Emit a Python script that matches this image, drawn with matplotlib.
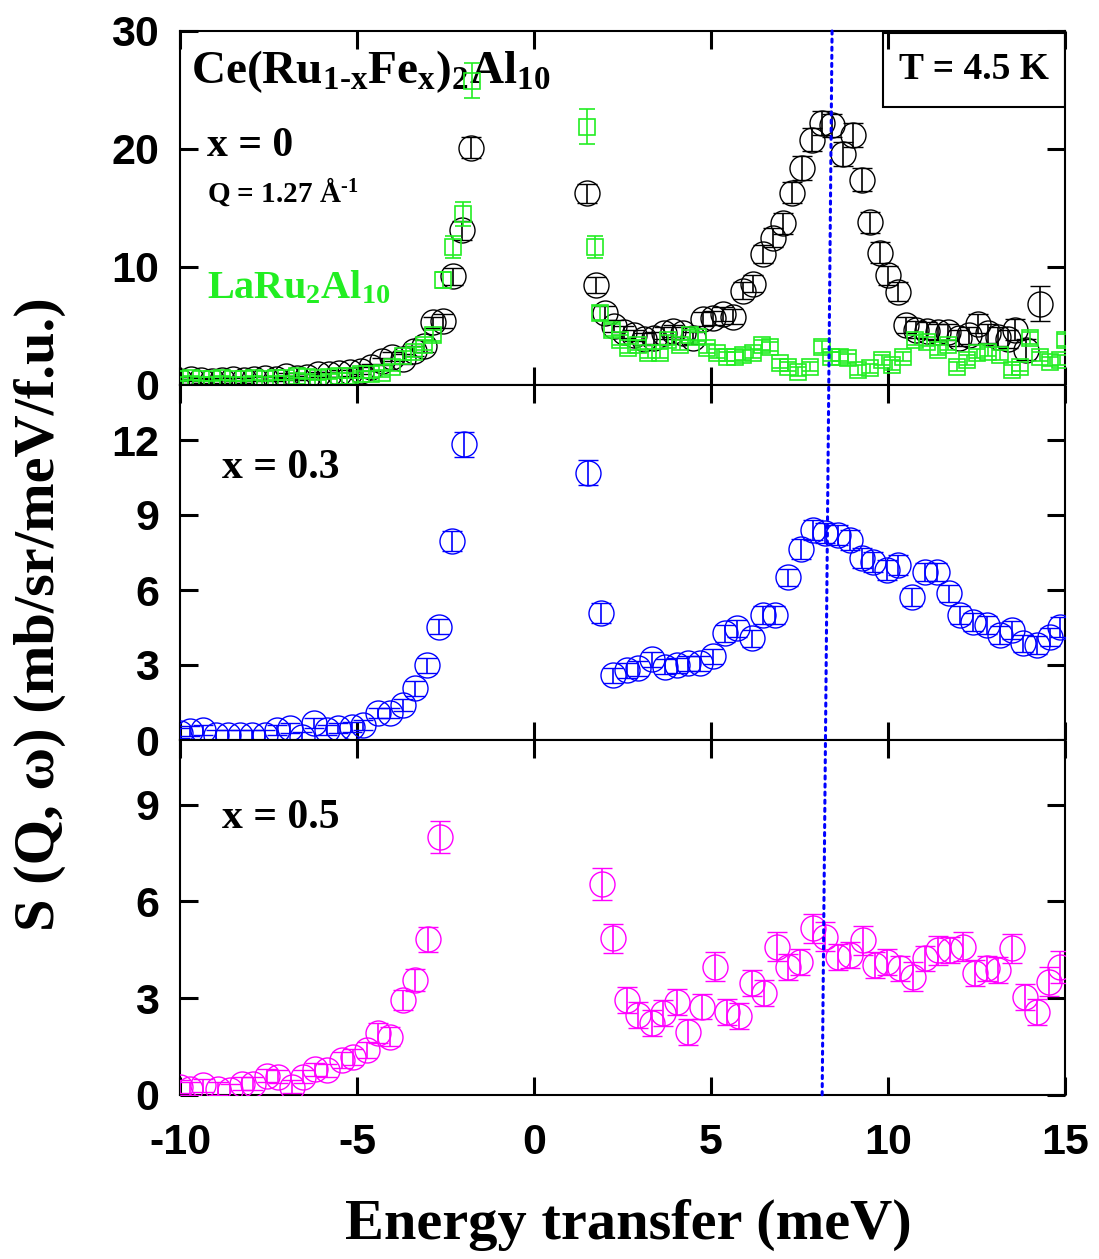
import numpy as np
import matplotlib
matplotlib.use('Agg')
import matplotlib.pyplot as plt
from matplotlib.patches import Rectangle, ConnectionPatch

plt.rcParams['mathtext.fontset'] = 'custom'
plt.rcParams['mathtext.rm'] = 'Liberation Serif:bold'
plt.rcParams['mathtext.bf'] = 'Liberation Serif:bold'
plt.rcParams['mathtext.it'] = 'Liberation Serif:bold'
plt.rcParams['axes.unicode_minus'] = False

# ---- data ----
# top panel, x = 0 (black circles)
e_x0 = [-10.0, -9.7, -9.4, -9.1, -8.8, -8.5, -8.2, -7.9, -7.6, -7.3, -7.0, -6.7,
        -6.4, -6.1, -5.8, -5.5, -5.2, -4.9, -4.6, -4.3, -4.0, -3.7, -3.4, -3.1,
        -2.85, -2.56, -2.28, -2.04, -1.78,
        1.49, 1.75, 2.0, 2.27, 2.55, 2.82, 3.1, 3.38, 3.66, 3.94, 4.22, 4.5,
        4.78, 5.06, 5.34, 5.62, 5.9, 6.18, 6.46, 6.74, 7.02, 7.30, 7.58, 7.86,
        8.14, 8.42, 8.72, 9.02, 9.26, 9.5, 9.76, 10.01, 10.29, 10.51, 10.8, 11.1,
        11.4, 11.7, 12.0, 12.3, 12.55, 12.83, 13.1, 13.4, 13.6, 13.9, 14.29]
s_x0 = [0.3, 0.5, 0.4, 0.3, 0.4, 0.5, 0.4, 0.5, 0.6, 0.5, 0.8, 0.6,
        0.7, 0.9, 0.9, 1.0, 1.1, 1.2, 1.5, 2.0, 2.4, 2.2, 2.9, 3.3,
        5.3, 5.4, 9.2, 13.1, 20.1,
        16.25, 8.47, 6.1, 5.0, 4.5, 4.2, 3.9, 4.0, 4.4, 4.6, 4.4, 4.0,
        5.6, 5.7, 6.0, 5.8, 8.0, 8.6, 11.1, 12.5, 13.7, 16.3, 18.4, 20.8,
        22.2, 22.0, 19.6, 21.2, 17.4, 13.8, 11.2, 9.3, 7.9, 5.1, 4.7, 4.6,
        4.5, 4.5, 4.0, 4.2, 5.2, 4.4, 4.1, 3.9, 4.7, 3.0, 6.9]
err_x0 = [0.2, 0.2, 0.2, 0.2, 0.2, 0.2, 0.2, 0.2, 0.2, 0.2, 0.2, 0.2,
          0.2, 0.2, 0.2, 0.3, 0.3, 0.3, 0.3, 0.3, 0.4, 0.4, 0.4, 0.5,
          0.5, 0.6, 0.7, 0.8, 0.9,
          0.8, 0.7, 0.6, 0.5, 0.5, 0.5, 0.5, 0.5, 0.5, 0.5, 0.5, 0.5,
          0.6, 0.6, 0.6, 0.6, 0.7, 0.7, 0.8, 0.8, 0.9, 0.9, 1.0, 1.0,
          1.0, 1.0, 1.0, 1.0, 1.0, 0.9, 0.9, 0.8, 0.8, 0.7, 0.7, 0.7,
          0.7, 0.7, 0.7, 0.7, 0.8, 0.8, 0.8, 0.8, 0.9, 0.9, 1.5]

# top panel, LaRu2Al10 (green squares)
e_la = [-10.0, -9.7, -9.4, -9.1, -8.8, -8.5, -8.2, -7.9, -7.6, -7.3, -7.0, -6.7,
        -6.4, -6.1, -5.8, -5.5, -5.2, -4.9, -4.6, -4.3, -4.0, -3.7, -3.4, -3.1,
        -2.85, -2.56, -2.28, -2.01, -1.76,
        1.49, 1.72, 1.86, 2.19, 2.43, 2.66, 2.95, 3.23, 3.56, 3.79, 4.12, 4.41,
        4.64, 4.88, 5.16, 5.44, 5.68, 5.91, 6.19, 6.43, 6.67, 6.95, 7.18, 7.47,
        7.8, 8.13, 8.4, 8.65, 8.88, 9.16, 9.49, 9.82, 10.1, 10.43, 10.76, 11.09,
        11.42, 11.7, 11.94, 12.22, 12.51, 12.83, 13.16, 13.49, 13.73, 14.01,
        14.29, 14.58, 14.86, 15.0]
s_la = [0.5, 0.6, 0.5, 0.5, 0.6, 0.5, 0.5, 0.6, 0.5, 0.6, 0.6, 0.8,
        0.7, 0.6, 0.7, 0.8, 0.8, 0.9, 0.9, 1.0, 1.5, 2.5, 2.8, 3.4,
        4.2, 8.9, 11.7, 14.5, 25.8,
        21.9, 11.7, 6.07, 4.66, 3.81, 3.11, 3.39, 2.68, 2.68, 3.81, 3.39, 4.24,
        4.1, 3.11, 2.68, 2.4, 2.4, 2.54, 2.68, 3.39, 3.25, 1.84, 1.55, 1.13,
        1.55, 3.25, 2.4, 2.4, 2.26, 1.27, 1.41, 2.12, 1.69, 2.4, 3.81, 3.67,
        2.97, 3.39, 1.55, 2.12, 2.68, 2.82, 2.54, 1.27, 1.55, 3.95,
        2.4, 1.98, 2.12, 3.81]
err_la = [0.2, 0.2, 0.2, 0.2, 0.2, 0.2, 0.2, 0.2, 0.2, 0.2, 0.2, 0.2,
          0.2, 0.2, 0.2, 0.2, 0.2, 0.3, 0.3, 0.3, 0.3, 0.4, 0.4, 0.4,
          0.5, 0.7, 0.9, 1.0, 1.5,
          1.5, 0.9, 0.6, 0.5, 0.4, 0.4, 0.4, 0.4, 0.4, 0.4, 0.4, 0.4,
          0.4, 0.4, 0.4, 0.4, 0.4, 0.4, 0.4, 0.4, 0.4, 0.4, 0.4, 0.4,
          0.4, 0.5, 0.4, 0.4, 0.4, 0.4, 0.4, 0.4, 0.4, 0.4, 0.4, 0.4,
          0.4, 0.4, 0.4, 0.4, 0.4, 0.4, 0.4, 0.4, 0.4, 0.5,
          0.4, 0.4, 0.4, 0.5]

# middle panel, x = 0.3 (blue circles)
e_x3 = [-10.0, -9.72, -9.34, -8.98, -8.64, -8.3, -7.97, -7.6, -7.25, -6.89,
        -6.56, -6.21, -5.86, -5.53, -5.15, -4.82, -4.40, -4.07, -3.71, -3.36,
        -3.03, -2.67, -2.33, -1.98,
        1.53, 1.89, 2.24, 2.62, 2.95, 3.32, 3.70, 4.03, 4.36, 4.69, 5.06, 5.40,
        5.74, 6.15, 6.48, 6.81, 7.18, 7.53, 7.89, 8.22, 8.6, 8.93, 9.26, 9.59,
        9.96, 10.29, 10.67, 11.05, 11.38, 11.73, 12.03, 12.41, 12.79, 13.16,
        13.49, 13.82, 14.2, 14.58, 14.86]
s_x3 = [0.3, 0.35, 0.4, 0.2, 0.2, 0.2, 0.2, 0.2, 0.4, 0.47,
        0.13, 0.67, 0.4, 0.47, 0.53, 0.6, 1.07, 1.07, 1.4, 2.07,
        3.0, 4.53, 7.96, 11.84,
        10.69, 5.09, 2.6, 2.8, 2.87, 3.23, 2.93, 3.0, 3.07, 3.07, 3.36, 4.27,
        4.47, 4.07, 5.0, 5.0, 6.51, 7.63, 8.4, 8.27, 8.2, 8.0, 7.27, 7.13,
        6.8, 7.0, 5.73, 6.73, 6.73, 5.87, 5.0, 4.73, 4.6, 4.2,
        4.4, 3.87, 3.8, 4.13, 4.53]
err_x3 = [0.2, 0.2, 0.2, 0.2, 0.2, 0.2, 0.2, 0.2, 0.2, 0.2,
          0.2, 0.2, 0.2, 0.2, 0.2, 0.2, 0.2, 0.2, 0.25, 0.3,
          0.3, 0.3, 0.4, 0.5,
          0.5, 0.4, 0.3, 0.3, 0.3, 0.3, 0.3, 0.3, 0.3, 0.3, 0.3, 0.35,
          0.35, 0.35, 0.35, 0.35, 0.35, 0.4, 0.4, 0.4, 0.4, 0.4, 0.4, 0.4,
          0.4, 0.4, 0.35, 0.35, 0.35, 0.35, 0.35, 0.35, 0.35, 0.35,
          0.35, 0.35, 0.35, 0.35, 0.4]

# bottom panel, x = 0.5 (magenta circles)
e_x5 = [-10.0, -9.72, -9.34, -8.92, -8.59, -8.26, -7.93, -7.55, -7.22, -6.85,
        -6.52, -6.19, -5.86, -5.43, -5.1, -4.73, -4.40, -4.07, -3.69, -3.36,
        -3.0, -2.66,
        1.91, 2.24, 2.62, 2.95, 3.32, 3.65, 4.03, 4.36, 4.74, 5.11, 5.44, 5.80,
        6.15, 6.50, 6.86, 7.18, 7.51, 7.87, 8.22, 8.6, 8.93, 9.3, 9.63, 9.96,
        10.34, 10.72, 11.05, 11.42, 11.75, 12.13, 12.46, 12.79, 13.12, 13.49,
        13.87, 14.22, 14.56, 14.86]
s_x5 = [0.25, 0.2, 0.3, 0.2, 0.15, 0.35, 0.35, 0.6, 0.57, 0.26,
        0.57, 0.8, 0.77, 1.08, 1.19, 1.39, 1.92, 1.81, 2.94, 3.56,
        4.82, 8.0,
        6.53, 4.86, 2.94, 2.48, 2.22, 2.53, 2.89, 1.96, 2.74, 3.97, 2.58, 2.45,
        3.46, 3.17, 4.59, 3.97, 4.13, 5.16, 4.90, 4.28, 4.33, 4.8, 4.02, 4.13,
        3.92, 3.66, 4.23, 4.49, 4.49, 4.59, 3.77, 3.92, 3.87, 4.54,
        3.04, 2.58, 3.51, 3.97]
err_x5 = [0.2, 0.2, 0.2, 0.2, 0.2, 0.2, 0.2, 0.2, 0.2, 0.2,
          0.2, 0.2, 0.2, 0.25, 0.25, 0.25, 0.3, 0.3, 0.3, 0.35,
          0.4, 0.5,
          0.5, 0.45, 0.4, 0.4, 0.4, 0.4, 0.4, 0.4, 0.4, 0.45, 0.4, 0.4,
          0.4, 0.4, 0.45, 0.4, 0.4, 0.45, 0.45, 0.4, 0.4, 0.45, 0.4, 0.4,
          0.4, 0.45, 0.4, 0.45, 0.4, 0.45, 0.4, 0.4, 0.4, 0.45,
          0.4, 0.4, 0.45, 0.5]

peak_top = 8.42
peak_bot = 8.14

serif = 'Liberation Serif'
sans = 'Liberation Sans'
green = '#22ee22'

fig = plt.figure(figsize=(10.99, 12.59), dpi=100)
left, width = 180 / 1099, 885 / 1099
ax1 = fig.add_axes([left, 874 / 1259, width, 354 / 1259])
ax2 = fig.add_axes([left, 519 / 1259, width, 355 / 1259])
ax3 = fig.add_axes([left, 164 / 1259, width, 355 / 1259])

ax1.set_ylim(0, 30)
ax1.set_yticks([0, 10, 20, 30])
ax2.set_ylim(0, 14.2)
ax2.set_yticks([0, 3, 6, 9, 12])
ax3.set_ylim(0, 11)
ax3.set_yticks([0, 3, 6, 9])

for ax in (ax1, ax2, ax3):
    ax.set_xlim(-10, 15)
    ax.set_xticks([-10, -5, 0, 5, 10, 15])
    ax.tick_params(direction='in', length=13, width=2.2, top=True, right=True,
                   labelsize=31)
    ax.tick_params(axis='y', pad=15)
    ax.tick_params(axis='x', pad=20)
    for sp in ax.spines.values():
        sp.set_linewidth(1.5)
    for lab in ax.get_yticklabels() + ax.get_xticklabels():
        lab.set_fontfamily(sans)
        lab.set_fontweight('bold')
ax1.tick_params(labelbottom=False)
ax2.tick_params(labelbottom=False)


def circles(ax, e, s, err, color):
    ax.errorbar(e, s, yerr=err, fmt='o', ms=18, mfc='none', mec=color, mew=1.0,
                ecolor=color, elinewidth=1.2, capsize=7, capthick=1.2, zorder=3)


ax1.errorbar(e_la, s_la, yerr=err_la, fmt='s', ms=12, mfc='none', mec=green,
             mew=1.2, ecolor=green, elinewidth=1.2, capsize=6, capthick=1.2,
             zorder=4)
circles(ax1, e_x0, s_x0, err_x0, 'black')
circles(ax2, e_x3, s_x3, err_x3, 'blue')
circles(ax3, e_x5, s_x5, err_x5, '#ff00ff')

# dotted guide line through the three panels
con = ConnectionPatch(xyA=(peak_top, 30), coordsA=ax1.transData,
                      xyB=(peak_bot, 0), coordsB=ax3.transData,
                      color='blue', linestyle=':', linewidth=2.2, zorder=5)
fig.add_artist(con)

ax1.text(0.012, 0.885, r'$\mathbf{Ce(Ru_{\text{1-x}}Fe_x)_2Al_{10}}$', fontsize=34,
         transform=ax1.transAxes, va='center', ha='left')
ax1.text(0.03, 0.675, 'x = 0', fontsize=30, fontfamily=serif, fontweight='bold',
         transform=ax1.transAxes, va='center')
ax1.text(0.03, 0.545, r'Q = 1.27 Å$^{\text{-1}}$', fontsize=21, fontfamily=serif,
         fontweight='bold', transform=ax1.transAxes, va='center')
ax1.text(0.03, 0.275, r'$\mathbf{LaRu_2Al_{10}}$', fontsize=29, color=green,
         transform=ax1.transAxes, va='center')
ax1.add_patch(Rectangle((0.794, 0.785), 0.206, 0.209, transform=ax1.transAxes,
                        fill=False, edgecolor='black', linewidth=1.5, zorder=6))
ax1.text(0.897, 0.89, 'T = 4.5 K', fontsize=27, fontfamily=serif, fontweight='bold',
         transform=ax1.transAxes, ha='center', va='center', zorder=7)

ax2.text(0.047, 0.765, 'x = 0.3', fontsize=30, fontfamily=serif, fontweight='bold',
         transform=ax2.transAxes, va='center')
ax3.text(0.047, 0.78, 'x = 0.5', fontsize=30, fontfamily=serif, fontweight='bold',
         transform=ax3.transAxes, va='center')

fig.text(0.036, 0.512, 'S (Q, ω) (mb/sr/meV/f.u.)', rotation=90, fontsize=42,
         fontfamily=serif, fontweight='bold', ha='center', va='center')
fig.text(0.572, 0.027, 'Energy transfer (meV)', fontsize=42,
         fontfamily=serif, fontweight='bold', ha='center', va='center')

fig.savefig('out.png', dpi=100)
